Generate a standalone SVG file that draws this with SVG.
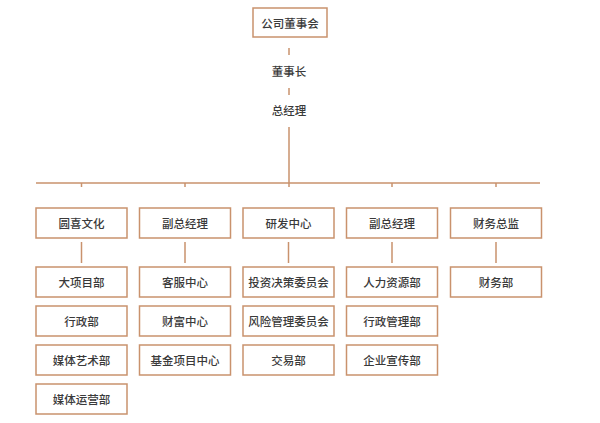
<svg xmlns="http://www.w3.org/2000/svg" width="600" height="423" viewBox="0 0 600 423">
<style>
.box{fill:#fff;stroke:#c9926d;stroke-width:1.5}
.ln{stroke:#c9926d;stroke-width:1.5;fill:none}
text{font-family:"Noto Sans CJK SC","Noto Sans",sans-serif;font-size:11.5px;font-weight:500;fill:#3a3a3a;text-anchor:middle;dominant-baseline:central}
</style>
<rect width="600" height="423" fill="#fff"/>
<g id="connectors">
<line class="ln" x1="289" y1="48" x2="289" y2="55"/>
<line class="ln" x1="289" y1="88" x2="289" y2="95"/>
<line class="ln" x1="289" y1="127" x2="289" y2="187"/>
<line class="ln" x1="36" y1="183" x2="540" y2="183"/>
<line class="ln" x1="81.5" y1="183" x2="81.5" y2="187"/>
<line class="ln" x1="185" y1="183" x2="185" y2="187"/>
<line class="ln" x1="392" y1="183" x2="392" y2="187"/>
<line class="ln" x1="496" y1="183" x2="496" y2="187"/>
<line class="ln" x1="81.5" y1="242" x2="81.5" y2="263"/>
<line class="ln" x1="185" y1="242" x2="185" y2="263"/>
<line class="ln" x1="288.5" y1="242" x2="288.5" y2="263"/>
<line class="ln" x1="392" y1="242" x2="392" y2="263"/>
<line class="ln" x1="496" y1="242" x2="496" y2="263"/>
</g>
<g id="board"><rect class="box" x="253" y="8" width="74" height="29"/><text x="290" y="22.5">公司董事会</text></g>
<g id="chairman"><text x="289" y="71">董事长</text></g>
<g id="gm"><text x="289" y="110">总经理</text></g>
<g id="n1"><rect class="box" x="36" y="208" width="91" height="30"/><text x="81.5" y="223">圆喜文化</text></g>
<g id="n2"><rect class="box" x="139.5" y="208" width="91" height="30"/><text x="185" y="223">副总经理</text></g>
<g id="n3"><rect class="box" x="243" y="208" width="91" height="30"/><text x="288.5" y="223">研发中心</text></g>
<g id="n4"><rect class="box" x="346.5" y="208" width="91" height="30"/><text x="392" y="223">副总经理</text></g>
<g id="n5"><rect class="box" x="450.5" y="208" width="91" height="30"/><text x="496" y="223">财务总监</text></g>
<g id="n1a"><rect class="box" x="36" y="267" width="91" height="30"/><text x="81.5" y="282">大项目部</text></g>
<g id="n1b"><rect class="box" x="36" y="306" width="91" height="30"/><text x="81.5" y="321">行政部</text></g>
<g id="n1c"><rect class="box" x="36" y="345" width="91" height="30"/><text x="81.5" y="360">媒体艺术部</text></g>
<g id="n1d"><rect class="box" x="36" y="384" width="91" height="30"/><text x="81.5" y="399">媒体运营部</text></g>
<g id="n2a"><rect class="box" x="139.5" y="267" width="91" height="30"/><text x="185" y="282">客服中心</text></g>
<g id="n2b"><rect class="box" x="139.5" y="306" width="91" height="30"/><text x="185" y="321">财富中心</text></g>
<g id="n2c"><rect class="box" x="139.5" y="345" width="91" height="30"/><text x="185" y="360">基金项目中心</text></g>
<g id="n3a"><rect class="box" x="243" y="267" width="91" height="30"/><text x="288.5" y="282">投资决策委员会</text></g>
<g id="n3b"><rect class="box" x="243" y="306" width="91" height="30"/><text x="288.5" y="321">风险管理委员会</text></g>
<g id="n3c"><rect class="box" x="243" y="345" width="91" height="30"/><text x="288.5" y="360">交易部</text></g>
<g id="n4a"><rect class="box" x="346.5" y="267" width="91" height="30"/><text x="392" y="282">人力资源部</text></g>
<g id="n4b"><rect class="box" x="346.5" y="306" width="91" height="30"/><text x="392" y="321">行政管理部</text></g>
<g id="n4c"><rect class="box" x="346.5" y="345" width="91" height="30"/><text x="392" y="360">企业宣传部</text></g>
<g id="n5a"><rect class="box" x="450.5" y="267" width="91" height="30"/><text x="496" y="282">财务部</text></g>
</svg>
